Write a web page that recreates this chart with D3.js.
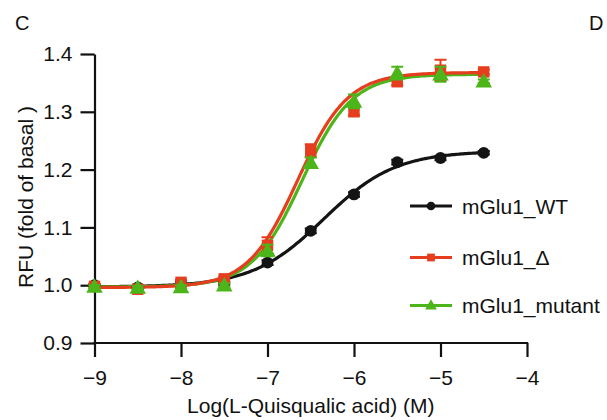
<!DOCTYPE html>
<html>
<head>
<meta charset="utf-8">
<script src="https://cdn.jsdelivr.net/npm/d3@7"></script>
<style>
  body { margin: 0; background: #fff; }
  svg text { font-family: "Liberation Sans", Arial, sans-serif; fill: #111; }
</style>
</head>
<body>
<div id="chart"></div>
<script>
// log concentration (M)
const logConc = [-9, -8.5, -8, -7.5, -7, -6.5, -6, -5.5, -5, -4.5];

const wtMean     = [1.000, 0.996, 1.003, 1.003, 1.039, 1.094, 1.157, 1.213, 1.220, 1.229];
const wtErr      = [0.002, 0.002, 0.002, 0.002, 0.004, 0.004, 0.004, 0.004, 0.004, 0.003];
const deltaMean  = [0.998, 0.993, 1.005, 1.011, 1.069, 1.233, 1.300, 1.352, 1.372, 1.369];
const deltaErr   = [0.003, 0.003, 0.004, 0.004, 0.014, 0.011, 0.006, 0.006, 0.018, 0.004];
const mutantMean = [0.998, 0.996, 0.997, 1.000, 1.060, 1.212, 1.318, 1.367, 1.365, 1.353];
const mutantErr  = [0.002, 0.002, 0.003, 0.003, 0.010, 0.009, 0.012, 0.011, 0.013, 0.003];

// four-parameter logistic fit: bottom, top, logEC50, hill slope
const fitBottom = [0.997, 0.996, 0.997];
const fitTop    = [1.232, 1.368, 1.365];
const fitEC50   = [-6.35, -6.65, -6.6];
const fitHill   = [1.05, 1.5, 1.5];

const seriesNames = ["mGlu1_WT", "mGlu1_\u0394", "mGlu1_mutant"];
const xTicks = [-9, -8, -7, -6, -5, -4];
const yTicks = [0.9, 1.0, 1.1, 1.2, 1.3, 1.4];

const colors = ["#141414", "#e53d1d", "#4cb51a"];
const shapes = [d3.symbolCircle, d3.symbolSquare, d3.symbolTriangle];

const width = 607, height = 420;
const svg = d3.select("#chart").append("svg")
    .attr("width", width).attr("height", height);

const x = d3.scaleLinear().domain([-9, -4]).range([94.5, 527]);
const y = d3.scaleLinear().domain([0.9, 1.4]).range([343, 54]);

const series = [wtMean, deltaMean, mutantMean].map((m, i) => ({
    name: seriesNames[i],
    color: colors[i],
    shape: shapes[i],
    points: logConc.map((c, j) => ({x: c, y: m[j], e: [wtErr, deltaErr, mutantErr][i][j]})),
    fit: {b: fitBottom[i], t: fitTop[i], ec: fitEC50[i], h: fitHill[i]}
}));

// axes
const xAxis = svg.append("g")
    .attr("transform", "translate(0," + y(0.9) + ")")
    .call(d3.axisBottom(x).tickValues(xTicks).tickSize(14).tickSizeOuter(0)
        .tickFormat(d => "\u2212" + Math.abs(d)).tickPadding(13));
const yAxis = svg.append("g")
    .attr("transform", "translate(" + x(-9) + ",0)")
    .call(d3.axisLeft(y).tickValues(yTicks).tickSize(14).tickSizeOuter(0)
        .tickFormat(d3.format(".1f")).tickPadding(8));
[xAxis, yAxis].forEach(a => {
    a.selectAll("path, line").attr("stroke", "#111").attr("stroke-width", 2.2);
    a.selectAll("text").style("font-size", "21px").attr("fill", "#111");
});
xAxis.select(".domain").attr("d", "M" + (x(-9) - 1.1) + ",0H" + (x(-4) + 1.1));

// fitted curves
const grid = d3.range(-9, -4.5 + 0.0001, 0.02);
const line = d3.line().x(d => x(d[0])).y(d => y(d[1]));
const curveOrder = [0, 2, 1];
curveOrder.forEach(i => {
    const f = series[i].fit;
    const pts = grid.map(c => [c, f.b + (f.t - f.b) / (1 + Math.pow(10, (f.ec - c) * f.h))]);
    svg.append("path").datum(pts)
        .attr("d", line)
        .attr("fill", "none")
        .attr("stroke", series[i].color)
        .attr("stroke-width", 3.2);
});

// error bars + markers
const markerSize = [110, 130, 120];
[0, 1, 2].forEach(i => {
    const s = series[i];
    const g = svg.append("g");
    g.selectAll("path.err").data(s.points).enter().append("path")
        .attr("class", "err")
        .attr("d", d => {
            const x0 = x(d.x), y1 = y(d.y + d.e), y2 = y(d.y - d.e);
            return "M" + x0 + "," + y1 + "V" + y2 +
                "M" + (x0 - 6) + "," + y1 + "H" + (x0 + 6) +
                "M" + (x0 - 6) + "," + y2 + "H" + (x0 + 6);
        })
        .attr("stroke", s.color).attr("stroke-width", 2).attr("fill", "none");
    g.selectAll("path.pt").data(s.points).enter().append("path")
        .attr("class", "pt")
        .attr("transform", d => "translate(" + x(d.x) + "," + (y(d.y) + (i === 2 ? 1.5 : 0)) + ")")
        .attr("d", d3.symbol().type(s.shape).size(markerSize[i]))
        .attr("fill", s.color);
});

// legend
const legendY = [206, 257.5, 305.5];
series.forEach((s, i) => {
    const g = svg.append("g").attr("transform", "translate(0," + legendY[i] + ")");
    g.append("line").attr("x1", 410).attr("x2", 452).attr("y1", 0).attr("y2", 0)
        .attr("stroke", s.color).attr("stroke-width", 3.2);
    g.append("path").attr("transform", "translate(431," + (i === 2 ? 0.5 : 0) + ")")
        .attr("d", d3.symbol().type(s.shape).size(60)).attr("fill", s.color);
    g.append("text").attr("x", 462).attr("y", 7.5).style("font-size", "21px").text(s.name);
});

// axis titles
svg.append("text")
    .attr("x", (x(-9) + x(-4)) / 2).attr("y", 413)
    .attr("text-anchor", "middle").style("font-size", "21px")
    .text("Log(L-Quisqualic acid) (M)");
svg.append("text")
    .attr("transform", "translate(33," + 197 + ") rotate(-90)")
    .attr("text-anchor", "middle").style("font-size", "21px")
    .text("RFU (fold of basal )");

// panel letters
svg.append("text").attr("x", 15).attr("y", 30).style("font-size", "20px").text("C");
svg.append("text").attr("x", 589).attr("y", 30).style("font-size", "20px").text("D");
</script>
</body>
</html>
